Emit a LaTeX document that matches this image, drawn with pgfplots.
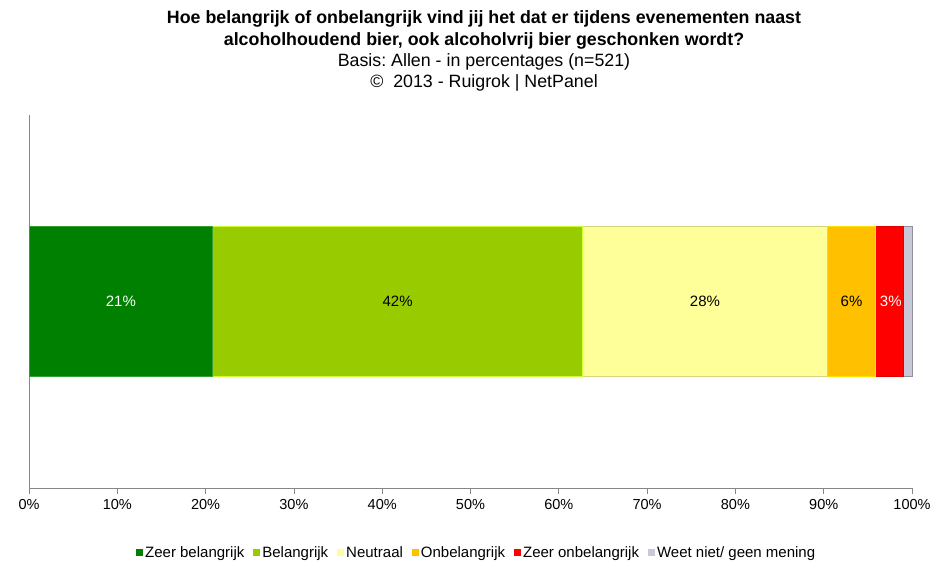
\documentclass[border=0pt]{standalone}
\usepackage{pgfplots}
\pgfplotsset{compat=1.18}
\usepackage{fontspec}
\setmainfont{Liberation Sans}
\frenchspacing
\definecolor{c1}{HTML}{008000}
\definecolor{c1e}{HTML}{33A033}
\definecolor{c2}{HTML}{99CC00}
\definecolor{c2e}{HTML}{CCFF33}
\definecolor{c3}{HTML}{FFFF99}
\definecolor{c3e}{HTML}{D6D680}
\definecolor{c4}{HTML}{FFC000}
\definecolor{c4e}{HTML}{FFE000}
\definecolor{c5}{HTML}{FF0000}
\definecolor{c5e}{HTML}{E00000}
\definecolor{c6}{HTML}{C8C8D8}
\definecolor{c6e}{HTML}{9090A0}
\definecolor{axisgrey}{HTML}{868686}
\begin{document}
\begin{tikzpicture}
\useasboundingbox (-29pt,-76pt) rectangle (906pt,488pt);
\begin{axis}[
  at={(0pt,0pt)}, anchor=south west,
  width=883pt, height=373pt, scale only axis,
  xbar stacked, bar width=150pt,
  xmin=0, xmax=100, ymin=-1.243, ymax=1.243,
  axis lines=left, axis line style={-, draw=axisgrey, line width=0.8pt},
  ytick=\empty,
  xtick={0,10,...,100},
  xticklabel={\pgfmathprintnumber{\tick}\%},
  tick align=outside, major tick length=6pt,
  xtick style={draw=axisgrey, line width=0.8pt},
  ticklabel style={font=\fontsize{14.5}{16}\selectfont},
  xticklabel style={yshift=-2pt},
  /pgf/number format/assume math mode=true,
  legend columns=6,
  legend style={draw=none, at={(0.507,-0.174)}, anchor=center,
    font=\fontsize{15}{17}\selectfont,
    /tikz/every even column/.append style={column sep=7pt},
    /tikz/every odd column/.append style={column sep=0pt}},
  legend image code/.code={\fill[#1,draw=none] (0pt,-3.5pt) rectangle (7pt,3.5pt);},
  clip=false,
]
\addplot[fill=c1, draw=c1e, line width=1pt] coordinates {(20.8,0)};
\addplot[fill=c2, draw=c2e, line width=1pt] coordinates {(41.9,0)};
\addplot[fill=c3, draw=c3e, line width=1pt] coordinates {(27.7,0)};
\addplot[fill=c4, draw=c4e, line width=1pt] coordinates {(5.5,0)};
\addplot[fill=c5, draw=c5e, line width=1pt] coordinates {(3.1,0)};
\addplot[fill=c6, draw=c6e, line width=1pt] coordinates {(1.0,0)};
\legend{Zeer belangrijk, Belangrijk, Neutraal, Onbelangrijk, Zeer onbelangrijk, Weet niet/ geen mening}
\coordinate (l1) at (axis cs:10.4,0);
\coordinate (l2) at (axis cs:41.75,0);
\coordinate (l3) at (axis cs:76.55,0);
\coordinate (l4) at (axis cs:93.15,0);
\coordinate (l5) at (axis cs:97.6,0);
\end{axis}
\node[font=\fontsize{15}{17}\selectfont, text=white] at (l1) {21\%};
\node[font=\fontsize{15}{17}\selectfont] at (l2) {42\%};
\node[font=\fontsize{15}{17}\selectfont] at (l3) {28\%};
\node[font=\fontsize{15}{17}\selectfont] at (l4) {6\%};
\node[font=\fontsize{15}{17}\selectfont, text=white, inner sep=0pt] at (l5) {3\%};
\node[font=\bfseries\fontsize{17.8}{20}\selectfont] at (455pt,469pt) {Hoe belangrijk of onbelangrijk vind jij het dat er tijdens evenementen naast};
\node[font=\bfseries\fontsize{17.8}{20}\selectfont] at (455pt,447pt) {alcoholhoudend bier, ook alcoholvrij bier geschonken wordt?};
\node[font=\fontsize{17.8}{20}\selectfont] at (455pt,426pt) {Basis: Allen - in percentages (n=521)};
\node[font=\fontsize{17.8}{20}\selectfont] at (455pt,405pt) {©\ \ 2013 - Ruigrok | NetPanel};
\end{tikzpicture}
\end{document}
